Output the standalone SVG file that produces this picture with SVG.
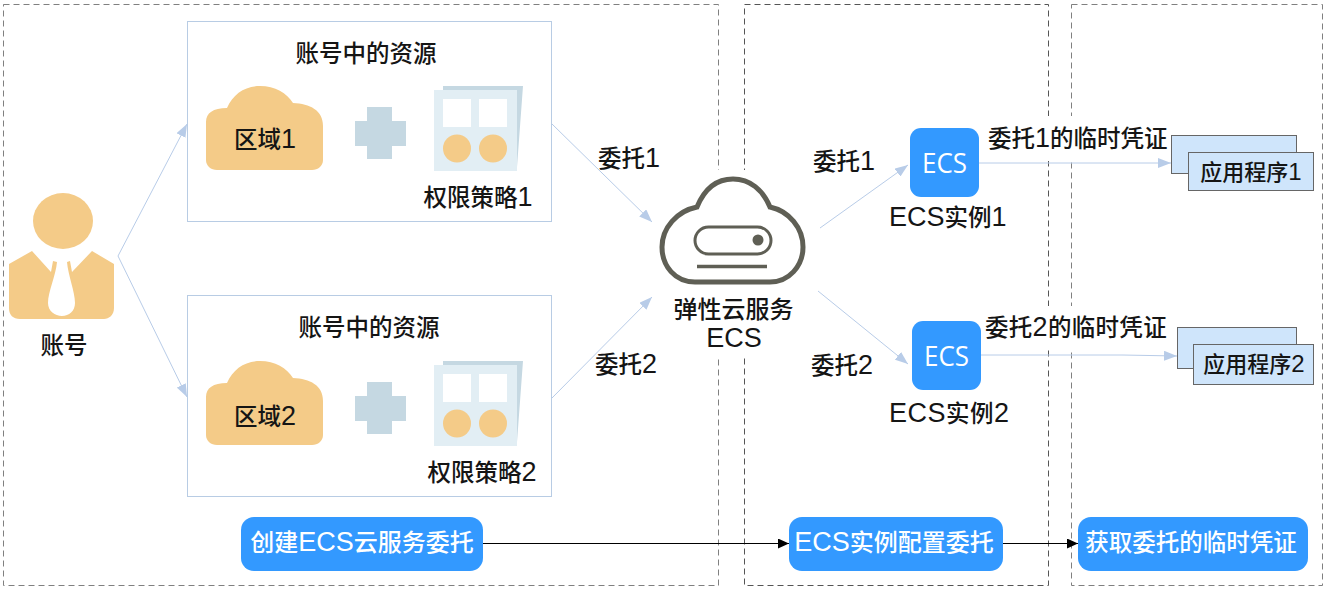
<svg xmlns="http://www.w3.org/2000/svg" width="1326" height="590" viewBox="0 0 1326 590">
<defs>
<marker id="ab" markerUnits="userSpaceOnUse" markerWidth="14" markerHeight="10" refX="13" refY="5" orient="auto"><path d="M0,0L13,5L0,10Z" fill="#b8cce8"/></marker>
<marker id="ak" markerUnits="userSpaceOnUse" markerWidth="12" markerHeight="10" refX="11" refY="5" orient="auto"><path d="M0,0L11,5L0,10Z" fill="#000"/></marker>
<g id="region"><path d="M206,160V122C206,113 213,108 227,108 233,94 245,86 260,86 275,86 287,93 293,103 310,104 323,110 323,126V160C323,166 318,170 312,170H217C211,170 206,166 206,160Z" fill="#f4cb88"/></g>
<g id="plus"><path d="M355,121H367V107H392V121H406V146H392V159H367V146H355Z" fill="#c5d8e2"/></g>
<g id="policy"><path d="M443,86H523L517,167H434V90H443Z" fill="#c5d8e2"/><rect x="434" y="90" width="83" height="81" fill="#e2eef4"/><rect x="443" y="99" width="28" height="28" fill="#fff"/><rect x="479" y="99" width="28" height="28" fill="#fff"/><circle cx="457" cy="148.500" r="14" fill="#f4cb88"/><circle cx="493" cy="148.500" r="14" fill="#f4cb88"/></g>
<g id="tile"><rect x="0" y="0" width="69" height="69" rx="11" fill="#3399ff"/><text x="34.500" y="45" text-anchor="middle" textLength="45" lengthAdjust="spacingAndGlyphs" style="fill:#fff;font-size:28px;font-weight:400;font-family:'Open Sans','Liberation Sans',sans-serif">ECS</text></g>
</defs>
<style>
text{font-family:"Liberation Sans","Noto Sans CJK SC",sans-serif;font-size:23.500px;font-weight:500;fill:#151515}
.n{font-size:27px}
.pan{fill:none;stroke:#808080;stroke-width:1;stroke-dasharray:6 4}
.pan2{fill:none;stroke:#555;stroke-width:1;stroke-dasharray:6 4}
.box{fill:#fff;stroke:#b8cce4;stroke-width:1}
.app{fill:#cfe5fb;stroke:#666;stroke-width:1}
.btn{fill:#3399ff}
text.w{fill:#fff;font-size:24px}
text.a{font-size:22px}
.a .n{font-size:24px}
.c{stroke:#b8cce8;stroke-width:1;fill:none;marker-end:url(#ab)}
.k{stroke:#000;stroke-width:1;fill:none;marker-end:url(#ak)}
</style>
<rect width="1326" height="590" fill="#fff"/>
<g id="panels">
<rect class="pan" x="3.500" y="4.500" width="715" height="581"/>
<rect class="pan2" x="744.500" y="4.500" width="304" height="581"/>
<rect class="pan" x="1071.500" y="4.500" width="251" height="581"/>
<rect x="715" y="170" width="34" height="188" fill="#fff"/>
<rect x="1044" y="116" width="32" height="45" fill="#fff"/>
<rect x="1044" y="306" width="32" height="44" fill="#fff"/>
</g>
<g id="connectors">
<path class="c" d="M118,256L187,124"/>
<path class="c" d="M118,256L187,397"/>
<path class="c" d="M552,124L652,222"/>
<path class="c" d="M552,398L652,297"/>
<path class="c" d="M820,228L908,165"/>
<path class="c" d="M818,291L908,364"/>
<path class="c" d="M978,163H1171"/>
<path class="c" d="M981,355H1122L1177,356"/>
<path class="k" d="M483,543.500H789"/>
<path class="k" d="M1003,543.500H1078"/>
</g>
<g id="account">
<ellipse cx="63" cy="221" rx="30" ry="28" fill="#f4cb88"/>
<path d="M9,264L32,251 51,272 53,261 57,262C56,275 48,292 48,303 48,311 55,316 62,316 69,316 75,311 75,303 75,292 68,275 67,262L70,261 72,272 92,251 114,264V308C114,315 109,319 104,319H20C13,319 9,315 9,308Z" fill="#f4cb88"/>
<text x="64" y="354" text-anchor="middle">账号</text>
</g>
<g id="res1">
<rect class="box" x="187.500" y="21.500" width="364" height="200"/>
<text x="366" y="62" text-anchor="middle">账号中的资源</text>
<use href="#region"/><use href="#plus"/><use href="#policy"/>
<text x="265" y="148" text-anchor="middle">区域<tspan class="n">1</tspan></text>
<text x="478" y="206" text-anchor="middle">权限策略<tspan class="n">1</tspan></text>
</g>
<g id="res2">
<rect class="box" x="187.500" y="295.500" width="364" height="201"/>
<text x="369" y="336" text-anchor="middle">账号中的资源</text>
<use href="#region" y="275"/><use href="#plus" y="275"/><use href="#policy" y="275"/>
<text x="265" y="425" text-anchor="middle">区域<tspan class="n">2</tspan></text>
<text x="482" y="481" text-anchor="middle">权限策略<tspan class="n">2</tspan></text>
</g>
<g id="ecs">
<path d="M695,282C675,282 662,266 662,247 662,228 677,211 697,207 704,190 716,179 733,179 750,179 763,190 770,207 789,211 803,228 803,247 803,266 789,282 770,282Z" fill="#fff" stroke="#5f5f55" stroke-width="5"/>
<rect x="695" y="227" width="76" height="27" rx="13.500" fill="none" stroke="#5f5f55" stroke-width="3"/>
<circle cx="758" cy="240" r="5.500" fill="#5f5f55"/>
<path d="M697,266.500H767" stroke="#5f5f55" stroke-width="3.500"/>
<text x="733.500" y="318" text-anchor="middle" style="font-size:24px">弹性云服务</text>
<text x="734" y="347" text-anchor="middle"><tspan class="n">ECS</tspan></text>
</g>
<g id="labels">
<text x="598" y="167">委托<tspan class="n">1</tspan></text>
<text x="595" y="373">委托<tspan class="n">2</tspan></text>
<text x="813" y="170">委托<tspan class="n">1</tspan></text>
<text x="811" y="374">委托<tspan class="n">2</tspan></text>
<text x="988" y="147">委托<tspan class="n">1</tspan>的临时凭证</text>
<text x="985" y="336" letter-spacing="0.300">委托<tspan class="n">2</tspan>的临时凭证</text>
</g>
<g id="inst1"><use href="#tile" x="910" y="128"/><text x="889" y="226"><tspan class="n">ECS</tspan>实例<tspan class="n">1</tspan></text></g>
<g id="inst2"><use href="#tile" x="912" y="321"/><text x="889" y="422" letter-spacing="0.500"><tspan class="n">ECS</tspan>实例<tspan class="n">2</tspan></text></g>
<g id="app1">
<rect class="app" x="1171.500" y="135.500" width="125" height="38"/>
<rect class="app" x="1188.500" y="152.500" width="125" height="38"/>
<text class="a" x="1251" y="180" text-anchor="middle">应用程序<tspan class="n">1</tspan></text>
</g>
<g id="app2">
<rect class="app" x="1177.500" y="327.500" width="119" height="41"/>
<rect class="app" x="1193.500" y="344.500" width="120" height="40"/>
<text class="a" x="1254" y="372" text-anchor="middle">应用程序<tspan class="n">2</tspan></text>
</g>
<g id="b1"><rect class="btn" x="241" y="517" width="242" height="54" rx="13"/><text class="w" x="362" y="551" text-anchor="middle">创建<tspan class="n">ECS</tspan>云服务委托</text></g>
<g id="b2"><rect class="btn" x="789" y="517" width="214" height="54" rx="13"/><text class="w" x="894" y="551" text-anchor="middle"><tspan class="n">ECS</tspan>实例配置委托</text></g>
<g id="b3"><rect class="btn" x="1078" y="517" width="230" height="54" rx="13"/><text class="w" x="1191" y="551" text-anchor="middle" style="font-size:23.500px">获取委托的临时凭证</text></g>
</svg>
